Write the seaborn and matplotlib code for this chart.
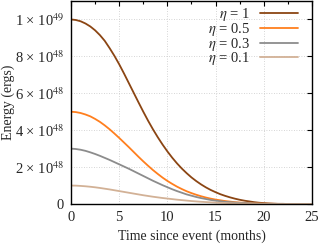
import numpy as np
import pandas as pd
import matplotlib
matplotlib.use("Agg")
import matplotlib.pyplot as plt
from matplotlib.ticker import MultipleLocator
import seaborn as sns

# time since event (months), every half month
months = [i * 0.5 for i in range(51)]

# energy in units of 1e48 ergs
energy_eta_1 = [10.0, 9.97, 9.90, 9.78, 9.62, 9.41, 9.15, 8.84, 8.45, 8.03,
                7.57, 7.07, 6.55, 6.03, 5.51, 5.00, 4.51, 4.05, 3.62, 3.22,
                2.85, 2.51, 2.20, 1.92, 1.67, 1.44, 1.24, 1.06, 0.90, 0.76,
                0.64, 0.53, 0.44, 0.36, 0.29, 0.23, 0.18, 0.14, 0.10, 0.07,
                0.05, 0.03, 0.02, 0.01, 0.01, 0.0, 0.0, 0.0, 0.0, 0.0, 0.0]
energy_eta_05 = [5.0, 4.98, 4.93, 4.85, 4.75, 4.61, 4.45, 4.26, 4.05, 3.82,
                 3.58, 3.33, 3.08, 2.82, 2.56, 2.31, 2.07, 1.84, 1.63, 1.43,
                 1.25, 1.09, 0.94, 0.81, 0.69, 0.59, 0.50, 0.42, 0.35, 0.29,
                 0.24, 0.20, 0.16, 0.13, 0.10, 0.08, 0.06, 0.05, 0.04, 0.03,
                 0.02, 0.015, 0.01, 0.005, 0.0, 0.0, 0.0, 0.0, 0.0, 0.0, 0.0]
energy_eta_03 = [3.0, 2.98, 2.94, 2.88, 2.80, 2.71, 2.61, 2.50, 2.39, 2.27,
                 2.15, 2.03, 1.91, 1.78, 1.65, 1.52, 1.39, 1.26, 1.14, 1.02,
                 0.91, 0.80, 0.70, 0.61, 0.52, 0.45, 0.38, 0.32, 0.27, 0.22,
                 0.18, 0.15, 0.12, 0.10, 0.08, 0.06, 0.05, 0.04, 0.03, 0.02,
                 0.015, 0.01, 0.005, 0.0, 0.0, 0.0, 0.0, 0.0, 0.0, 0.0, 0.0]
energy_eta_01 = [1.0, 0.995, 0.98, 0.96, 0.935, 0.905, 0.87, 0.83, 0.79, 0.745,
                 0.70, 0.655, 0.61, 0.565, 0.52, 0.475, 0.435, 0.395, 0.36, 0.325,
                 0.295, 0.265, 0.235, 0.21, 0.185, 0.16, 0.14, 0.12, 0.105, 0.09,
                 0.075, 0.065, 0.055, 0.045, 0.035, 0.03, 0.02, 0.015, 0.01, 0.008,
                 0.005, 0.003, 0.001, 0.0, 0.0, 0.0, 0.0, 0.0, 0.0, 0.0, 0.0]

labels = [r"$\eta$ = 1", r"$\eta$ = 0.5", r"$\eta$ = 0.3", r"$\eta$ = 0.1"]
colors = ["#8b4513", "#ff7f1e", "#8c8c8c", "#d2b196"]

ytick_vals = [0, 2, 4, 6, 8, 10]
ytick_labels = ["0", r"2 × 10$^{48}$", r"4 × 10$^{48}$", r"6 × 10$^{48}$",
                r"8 × 10$^{48}$", r"1 × 10$^{49}$"]

df = pd.concat([
    pd.DataFrame({"t": months, "E": e, "eta": lab})
    for e, lab in zip([energy_eta_1, energy_eta_05, energy_eta_03, energy_eta_01], labels)
])

sns.set_style("white")
plt.rcParams["font.family"] = ["Liberation Serif", "DejaVu Serif"]
plt.rcParams["mathtext.fontset"] = "stix"

fig = plt.figure(figsize=(3.18, 2.46), dpi=100)
ax = fig.add_axes([0.2233, 0.1707, 0.7577, 0.8253])

sns.lineplot(data=df, x="t", y="E", hue="eta", palette=dict(zip(labels, colors)),
             linewidth=1.3, ax=ax)

ax.set_xlim(0, 25)
ax.set_ylim(0, 11)
ax.set_xticks([0, 5, 10, 15, 20, 25])
ax.xaxis.set_minor_locator(MultipleLocator(2.5))
ax.set_yticks(ytick_vals)
ax.set_yticklabels(ytick_labels)
ax.tick_params(which="both", direction="in", top=True, right=True, labelsize=10.5,
               width=0.8, color="black")
ax.tick_params(which="major", length=3.5, pad=5)
ax.tick_params(which="minor", length=2)
ax.grid(True, which="major", color="#c8c8c8", linestyle=(0, (1, 2)), linewidth=0.6)
for s in ax.spines.values():
    s.set_color("black")
    s.set_linewidth(1.0)

ax.set_xlabel("Time since event (months)", fontsize=10, labelpad=4)
ax.set_ylabel("Energy (ergs)", fontsize=10)
ax.yaxis.set_label_coords(-0.232, 0.5)

leg = ax.legend(loc="upper right", bbox_to_anchor=(0.94, 0.975), frameon=False,
                fontsize=10.5, markerfirst=False, handlelength=2.6,
                labelspacing=-0.15, borderaxespad=0.0, handletextpad=0.65,
                borderpad=0.0)
for t in leg.get_texts():
    t.set_ha("right")

fig.savefig("out.png", dpi=100)
